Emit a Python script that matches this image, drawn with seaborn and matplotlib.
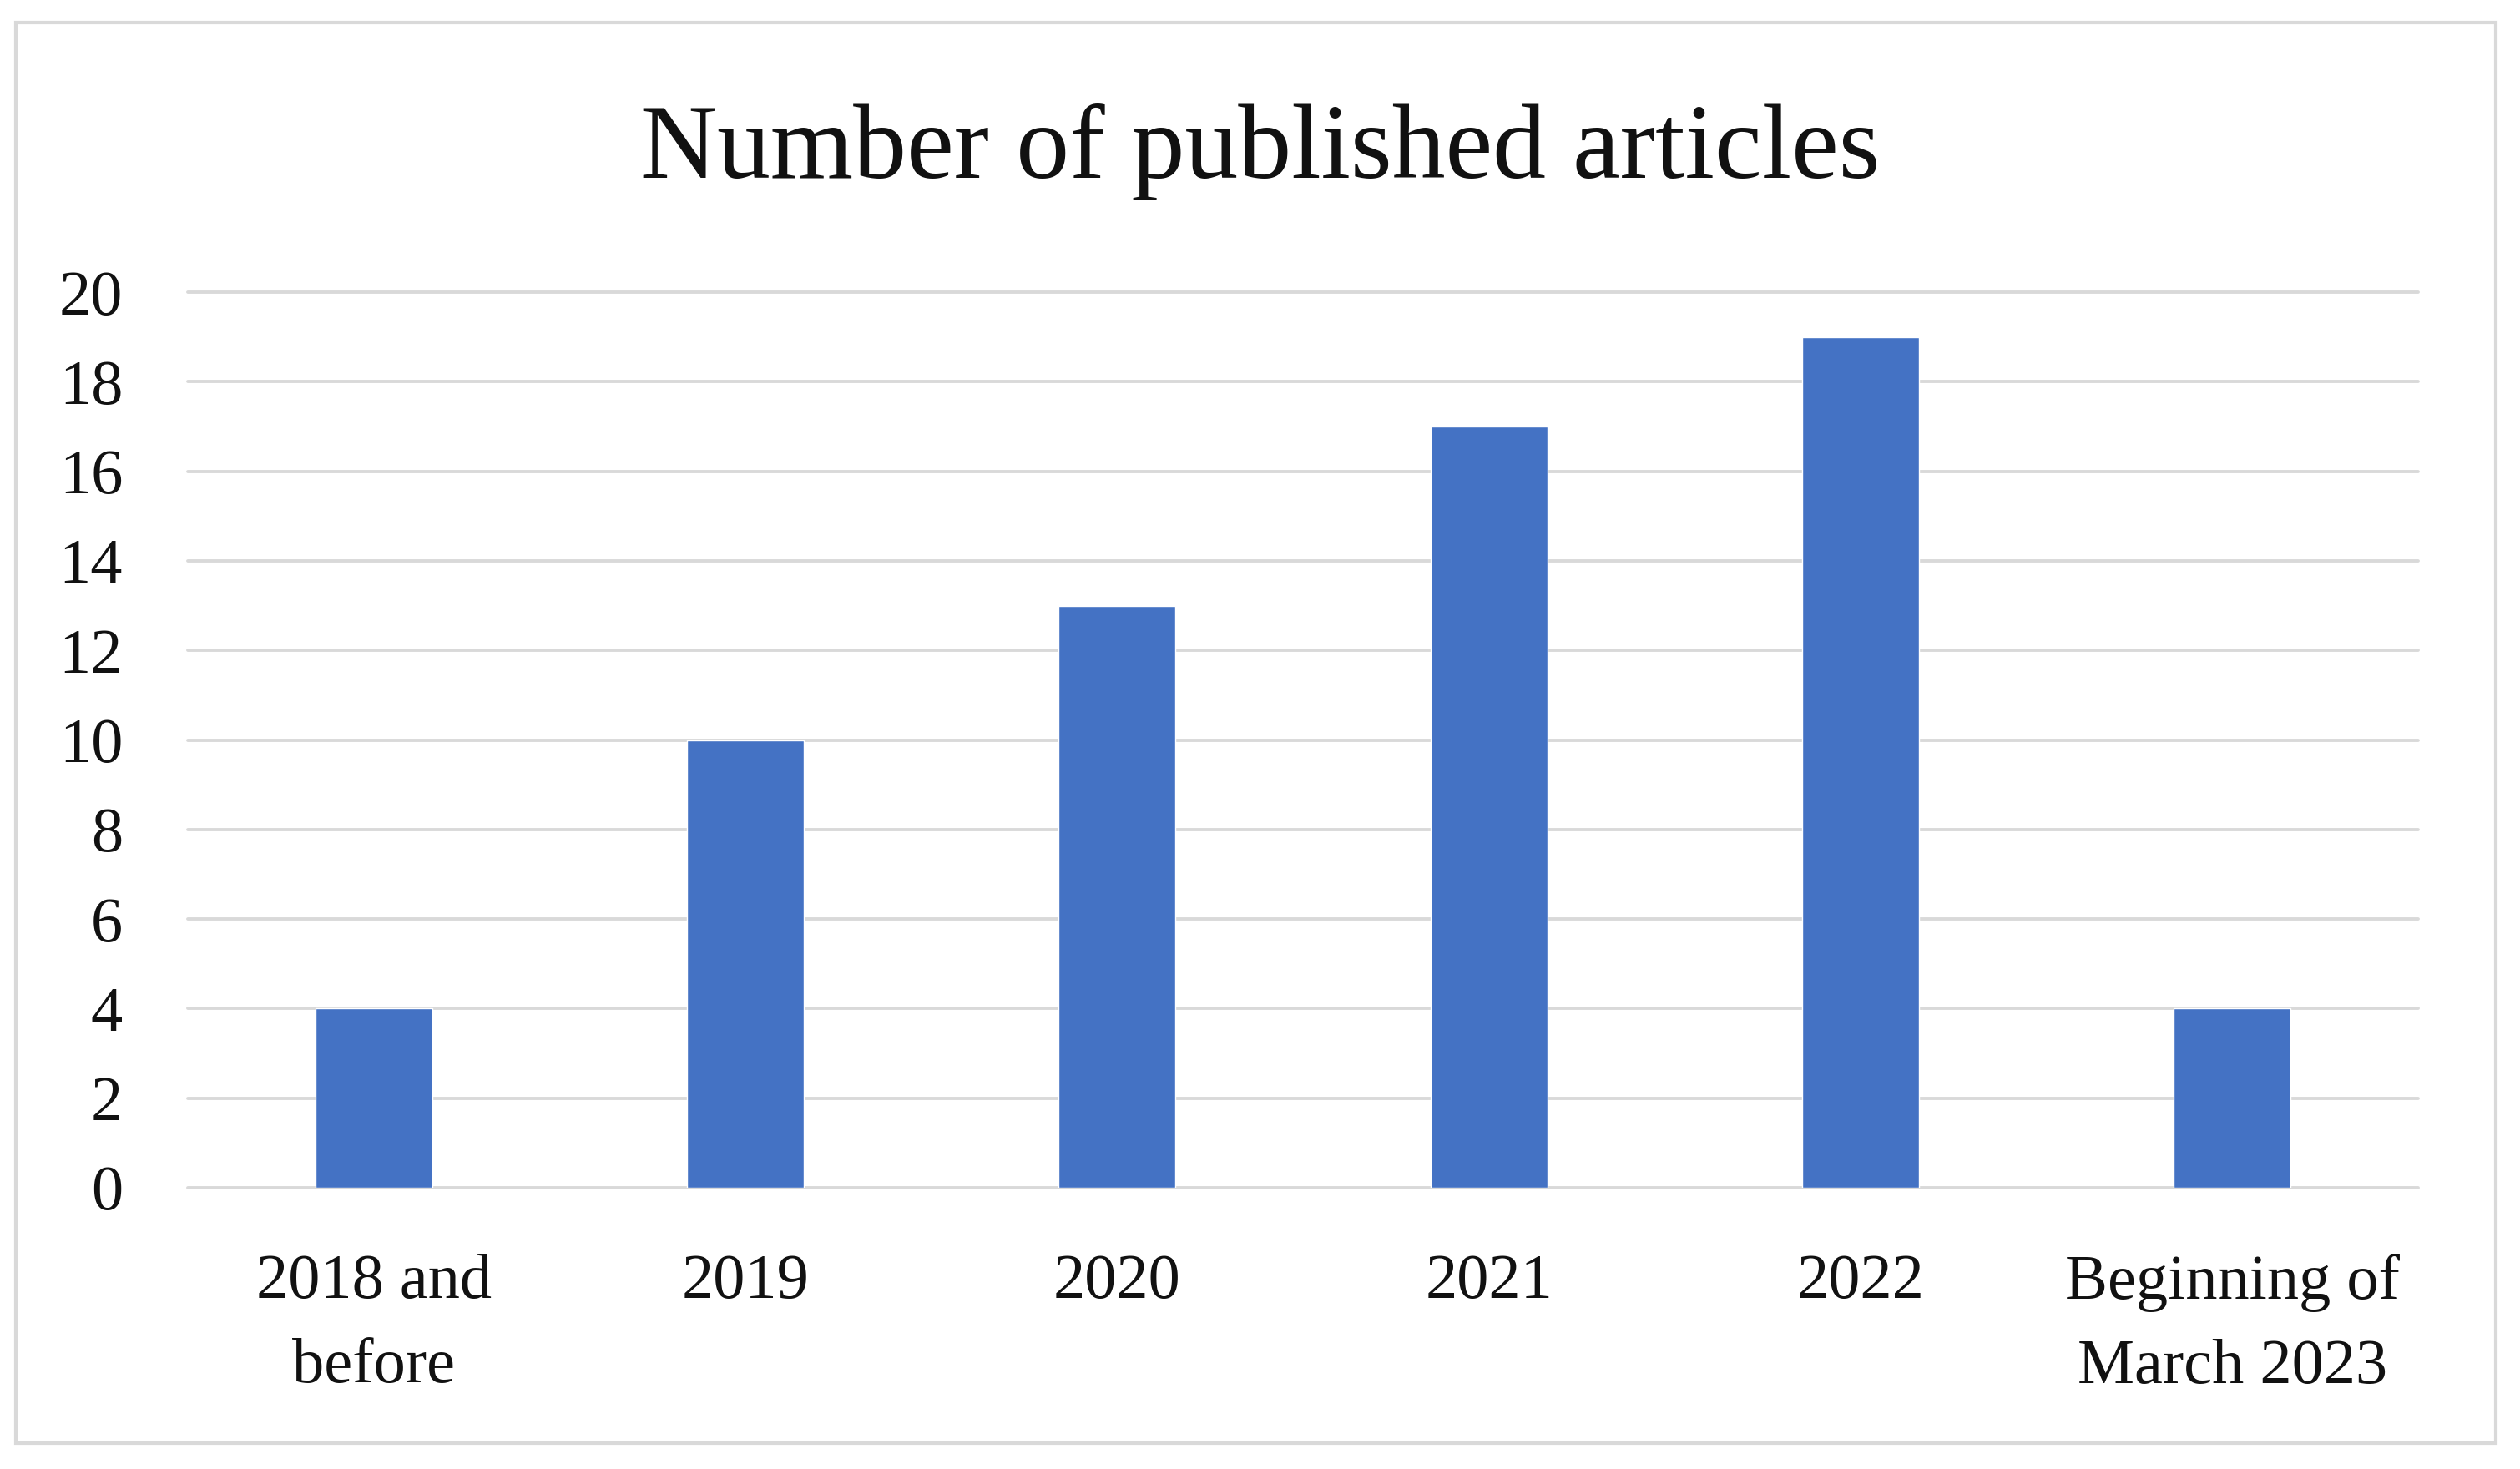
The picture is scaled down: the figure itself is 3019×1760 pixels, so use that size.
import seaborn as sns
import pandas as pd
import matplotlib.pyplot as plt
from matplotlib.patches import Rectangle

# данные с картинки
categories = ['2018 and\nbefore', '2019', '2020', '2021', '2022', 'Beginning of\nMarch 2023']
articles = [4, 10, 13, 17, 19, 4]
y_ticks = list(range(0, 21, 2))

df = pd.DataFrame({'period': categories, 'count': articles})

sns.set_style('white')
plt.rcParams['font.family'] = ['Liberation Serif', 'DejaVu Serif']

W, H, DPI = 3019, 1760, 100
fig = plt.figure(figsize=(W / DPI, H / DPI), dpi=DPI)
ax = fig.add_axes([225 / W, 1 - 1423 / H, (2897 - 225) / W, (1423 - 350) / H])

ax.set_ylim(0, 20)
ax.set_yticks(y_ticks)
ax.yaxis.grid(True, color='#D9D9D9', linewidth=2.8)
ax.set_axisbelow(True)
for gl in ax.get_ygridlines():
    gl.set_clip_on(False)

sns.barplot(data=df, x='period', y='count', color='#4472C4', width=0.315,
            saturation=1, ax=ax, zorder=3)

for s in ax.spines.values():
    s.set_visible(False)
ax.set_xlabel('')
ax.set_ylabel('')
ax.tick_params(axis='y', length=0, pad=56, labelsize=55, labelcolor='#111111')
ax.tick_params(axis='x', length=0, pad=57, labelsize=55, labelcolor='#111111')
for t in ax.get_xticklabels():
    t.set_linespacing(1.6)

fig.text(0.5, 1 - 182 / H, 'Number of published articles', ha='center', va='center',
         fontsize=92, color='#111111')

# рамка вокруг всего графика
fig.patches.append(Rectangle((19 / W, 1 - 1729 / H), (2990 - 19) / W, (1729 - 27) / H,
                             transform=fig.transFigure, fill=False,
                             edgecolor='#D9D9D9', linewidth=3))

fig.savefig('out.png', dpi=DPI, facecolor='white')
